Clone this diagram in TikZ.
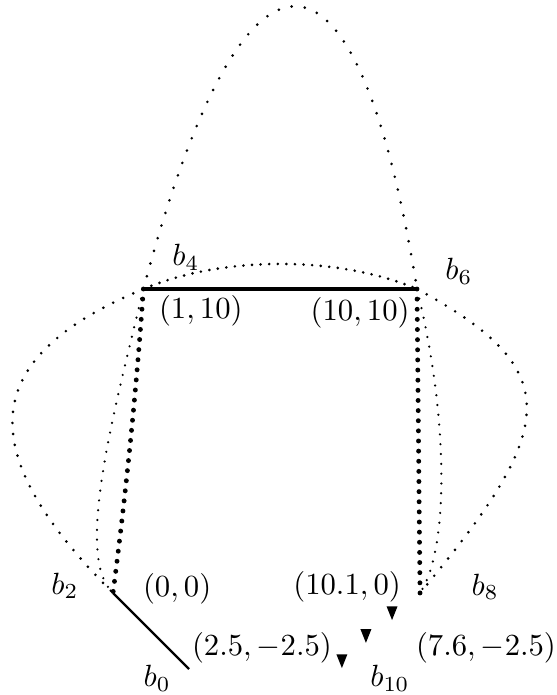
\documentclass[tikz,border=0pt]{standalone}
\usepackage{amsmath,amssymb}
\usepackage{tikz}
\usetikzlibrary{calc}
\tikzset{
  marker/.pic={
    \fill (-0.18,0.45)--(0.18,0.45)--(0,0)--cycle;
  }
}
\tikzset{
  archdots/.style={
    line width=0.95pt,
    line cap=round,
    dash pattern=on 0pt off 4.3pt
  },
  flatdots/.style={
    line width=0.95pt,
    line cap=round,
    dash pattern=on 0pt off 2.8pt
  },
  loopdots/.style={
    line width=0.95pt,
    line cap=round,
    dash pattern=on 0pt off 3.6pt
  },
  finedots/.style={
    line width=0.8pt,
    line cap=round,
    dash pattern=on 0pt off 3.2pt
  },
  heavydots/.style={
    line width=1.6pt,
    line cap=round,
    dash pattern=on 0pt off 3.3pt
  },
  every picture/.style = {
    x=0.348cm,
    y=0.348cm
  }
}
\begin{document}
\begin{tikzpicture}
        \useasboundingbox (-3.717,-3.355) rectangle (14.605,19.507);
        \coordinate (p0) at (2.5,-2.5);
        \coordinate (p2) at (0,0);
        \coordinate (p4) at (1,10);
        \coordinate (p6) at (10,10);
        \coordinate (p8) at (10.1,0);
        \coordinate (p10) at (7.6,-2.5);
        % curves
        \draw[archdots] (p4) .. controls (4.3,22.4) and (8.0,22.4) .. (p6);
        \draw[flatdots] (p4) .. controls (3.6,11.1) and (7.4,11.1) .. (p6);
        \draw[loopdots] (p4) .. controls (-4.3,7.8) and (-4.8,4.8) .. (p2);
        \draw[loopdots] (p6) .. controls (15.0,7.3) and (14.6,5.4) .. (p8);
        \draw[finedots] (p4) .. controls (0.1,6.2) and (-1.3,1.2) .. (p2);
        \draw[finedots] (p6) .. controls (11,6) and (11.1,1.5) .. (p8);
        \draw[heavydots] (p4) .. controls (0.77,6.67) and (0.43,3.33) .. (p2);
        \draw[heavydots] (p6) -- (p8);
        \draw[line width=1.4pt] (p4) -- (p6);
        \draw[line width=0.7pt] (p2) -- (p0);
        \pic at (9.18,-0.89) {marker};
        \pic at (8.32,-1.64) {marker};
        \pic at (7.53,-2.47) {marker};
        % labels
        \node (l0) at (1.45,-2.8) {$b_0$};
        \node (l2) at (-1.58,0.23) {$b_2$};
        \node (l4) at (2.4,11.05) {$b_4$};
        \node (l6) at (11.38,10.59) {$b_6$};
        \node (l8) at (12.24,0.2) {$b_8$};
        \node (l10) at (9.11,-2.8) {$b_{10}$};
        \node (c2) at (2.11,0.13) {$(0,0)$};
        \node (c4) at (2.89,9.28) {$(1,10)$};
        \node (c6) at (8.13,9.21) {$(10,10)$};
        \node (c8) at (7.7,0.2) {$(10.1,0)$};
        \node (c0) at (4.9,-1.81) {$(2.5,-2.5)$};
        \node (c10) at (12.27,-1.81) {$(7.6,-2.5)$};
    \end{tikzpicture}
\end{document}
